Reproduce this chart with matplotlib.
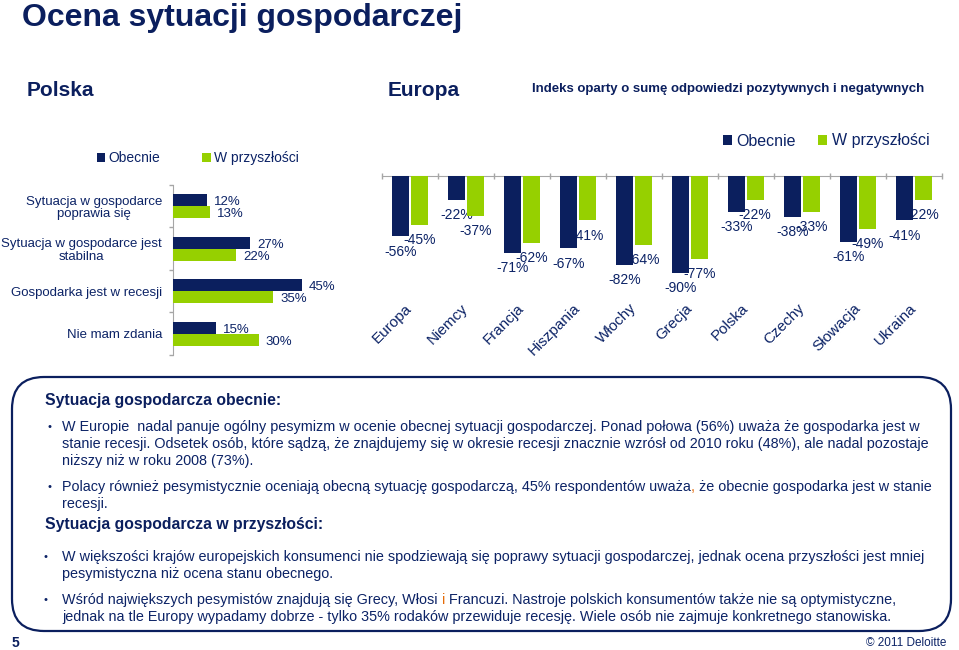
import numpy as np
import matplotlib
matplotlib.use('Agg')
import matplotlib.pyplot as plt
from matplotlib.patches import FancyBboxPatch

plt.rcParams['font.family'] = ['Liberation Sans', 'DejaVu Sans']

NAVY = '#0b1f5e'
GREEN = '#96d000'
TXT = '#0c2366'
GRAY = '#a6a6a6'
ORANGE = '#e46c0a'

# --- data: Polska ---
pl_categories = ['Sytuacja w gospodarce\npoprawia się',
                 'Sytuacja w gospodarce jest\nstabilna',
                 'Gospodarka jest w recesji',
                 'Nie mam zdania']
pl_now = [12, 27, 45, 15]
pl_future = [13, 22, 35, 30]

# --- data: Europa ---
eu_countries = ['Europa', 'Niemcy', 'Francja', 'Hiszpania', 'Włochy',
                'Grecja', 'Polska', 'Czechy', 'Słowacja', 'Ukraina']
eu_now = [-56, -22, -71, -67, -82, -90, -33, -38, -61, -41]
eu_future = [-45, -37, -62, -41, -64, -77, -22, -33, -49, -22]

series_names = ['Obecnie', 'W przyszłości']

W, H = 959, 650
fig = plt.figure(figsize=(W / 100, H / 100), dpi=100)


def px_axes(x0, y0, x1, y1):
    # axes rectangle given in pixel coords (top-left origin)
    return fig.add_axes([x0 / W, 1 - y1 / H, (x1 - x0) / W, (y1 - y0) / H])


#%% left chart (Polska)
axl = px_axes(173, 185, 345, 355)
yy = np.arange(len(pl_categories))
h = 0.28
b1 = axl.barh(yy - h / 2, pl_now, height=h, color=NAVY, zorder=3)
b2 = axl.barh(yy + h / 2, pl_future, height=h, color=GREEN, zorder=3)
for bars, vals in ((b1, pl_now), (b2, pl_future)):
    for r, v in zip(bars, vals):
        axl.annotate(f'{v}%', (v, r.get_y() + r.get_height() / 2),
                     xytext=(5, -1.5), textcoords='offset points',
                     ha='left', va='center', fontsize=9.5, color=TXT)
axl.set_xlim(0, 60)
axl.set_ylim(len(pl_categories) - 0.5, -0.5)
axl.set_yticks(yy)
axl.set_yticklabels(pl_categories, fontsize=9.5, color=TXT)
for lbl in axl.get_yticklabels():
    lbl.set_multialignment('center')
    lbl.set_linespacing(1.05)
axl.set_yticks(np.arange(len(pl_categories) + 1) - 0.5, minor=True)
axl.tick_params(axis='y', which='major', length=0, pad=8)
axl.tick_params(axis='y', which='minor', length=3, color=GRAY, width=1)
axl.set_xticks([])
for s in ['top', 'right', 'bottom']:
    axl.spines[s].set_visible(False)
axl.spines['left'].set_color(GRAY)
axl.patch.set_visible(False)

fig.legend([b1, b2], series_names, loc='center left',
           bbox_to_anchor=(97 / W, 1 - 158 / H), ncol=2, frameon=False,
           fontsize=10, handlelength=0.6, handleheight=0.6,
           handletextpad=0.25, columnspacing=3.0, borderpad=0,
           borderaxespad=0, labelcolor=TXT)

#%% right chart (Europa)
axr = px_axes(382, 176, 942, 284)
xx = np.arange(len(eu_countries))
w = 0.31
off = 0.165
r1 = axr.bar(xx - off, eu_now, width=w, color=NAVY, zorder=3)
r2 = axr.bar(xx + off, eu_future, width=w, color=GREEN, zorder=3)
for bars, vals in ((r1, eu_now), (r2, eu_future)):
    for r, v in zip(bars, vals):
        axr.annotate(f'{v}%', (r.get_x() + r.get_width() / 2, v),
                     xytext=(0, -11), textcoords='offset points',
                     ha='center', va='center', fontsize=10, color=TXT,
                     zorder=1)
axr.set_ylim(-100, 0)
axr.set_xlim(-0.5, len(eu_countries) - 0.5)
axr.set_xticks(xx)
axr.set_xticklabels(eu_countries, rotation=45, ha='right', va='center',
                    rotation_mode='anchor', fontsize=11, color=TXT)
axr.set_xticks(np.arange(len(eu_countries) + 1) - 0.5, minor=True)
axr.tick_params(axis='x', which='major', length=0, pad=16)
axr.tick_params(axis='x', which='minor', top=True, bottom=False,
                direction='inout', length=5, color=GRAY, width=1)
axr.set_yticks([])
for s in ['left', 'right', 'bottom']:
    axr.spines[s].set_visible(False)
axr.spines['top'].set_color(GRAY)
axr.patch.set_visible(False)

fig.legend([r1, r2], series_names, loc='center left',
           bbox_to_anchor=(723 / W, 1 - 141 / H), ncol=2, frameon=False,
           fontsize=11.5, handlelength=0.55, handleheight=0.55,
           handletextpad=0.3, columnspacing=1.4, borderpad=0,
           borderaxespad=0, labelcolor=TXT)

#%% texts, overlay in pixel coordinates
ov = fig.add_axes([0, 0, 1, 1])
ov.set_xlim(0, W)
ov.set_ylim(H, 0)
ov.axis('off')

ov.text(22, 18, 'Ocena sytuacji gospodarczej', fontsize=23,
        fontweight='bold', color=NAVY, va='center')
ov.text(27, 90, 'Polska', fontsize=15, fontweight='bold', color=NAVY,
        va='center')
ov.text(388, 90, 'Europa', fontsize=15, fontweight='bold', color=NAVY,
        va='center')
ov.text(532, 89, 'Indeks oparty o sumę odpowiedzi pozytywnych i negatywnych',
        fontsize=9.5, fontweight='bold', color=NAVY, va='center')

box = FancyBboxPatch((12, 377), 939, 254,
                     boxstyle='round,pad=0,rounding_size=32',
                     fc='none', ec=NAVY, lw=1.6)
ov.add_patch(box)

BODY = 10.4


def rich_line(x, y, parts):
    # parts: list of (text, colour), drawn one after another
    t = ov.text(x, y, parts[0][0], fontsize=BODY, color=parts[0][1],
                va='center', ha='left')
    for s, c in parts[1:]:
        t = ov.annotate(s, xy=(1, 0), xycoords=t, fontsize=BODY, color=c,
                        va='bottom', ha='left')


headings = [('Sytuacja gospodarcza obecnie:', 400),
            ('Sytuacja gospodarcza w przyszłości:', 524)]
for s, y in headings:
    ov.text(45, y, s, fontsize=11.3, fontweight='bold', color=NAVY,
            va='center')

bullets = [
    (427, [('W Europie  nadal panuje ogólny pesymizm w ocenie obecnej sytuacji '
            'gospodarczej. Ponad połowa (56%) uważa że gospodarka jest w', TXT)],
     True),
    (444, [('stanie recesji. Odsetek osób, które sądzą, że znajdujemy się w '
            'okresie recesji znacznie wzrósł od 2010 roku (48%), ale nadal '
            'pozostaje', TXT)], False),
    (461, [('niższy niż w roku 2008 (73%).', TXT)], False),
    (487, [('Polacy również pesymistycznie oceniają obecną sytuację '
            'gospodarczą, 45% respondentów uważa', TXT), (',', ORANGE),
           (' że obecnie gospodarka jest w stanie', TXT)], True),
    (504, [('recesji.', TXT)], False),
    (557, [('W większości krajów europejskich konsumenci nie spodziewają się '
            'poprawy sytuacji gospodarczej, jednak ocena przyszłości jest '
            'mniej', TXT)], True),
    (574, [('pesymistyczna niż ocena stanu obecnego.', TXT)], False),
    (600, [('Wśród największych pesymistów znajdują się Grecy, Włosi', TXT),
           (' i', ORANGE),
           (' Francuzi. Nastroje polskich konsumentów także nie są '
            'optymistyczne,', TXT)], True),
    (617, [('jednak na tle Europy wypadamy dobrze - tylko 35% rodaków '
            'przewiduje recesję. Wiele osób nie zajmuje konkretnego '
            'stanowiska.', TXT)], False),
]
for y, parts, has_bullet in bullets:
    if has_bullet:
        ov.text(47 if y < 520 else 43, y, '•', fontsize=8, color=TXT,
                va='center', ha='left')
    rich_line(62, y, parts)

ov.text(12, 643, '5', fontsize=10, fontweight='bold', color=NAVY,
        va='center')
ov.text(946, 643, '© 2011 Deloitte', fontsize=8.5, color=TXT,
        va='center', ha='right')

fig.savefig('out.png', dpi=100)
